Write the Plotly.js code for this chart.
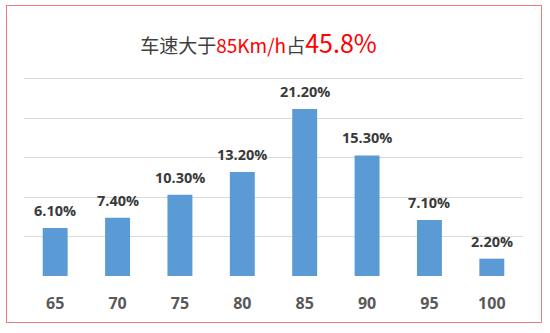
<!DOCTYPE html>
<html>
<head>
<meta charset="utf-8">
<script src="https://cdn.plot.ly/plotly-3.0.1.min.js"></script>
<style>
html,body{margin:0;padding:0;background:#fff;}
#wrap{position:relative;width:550px;height:333px;}
#chart{position:absolute;left:0;top:0;width:550px;height:333px;}
#frame{position:absolute;left:6px;top:5px;width:534px;height:316px;border:1.5px solid #EE7A7A;pointer-events:none;}
</style>
</head>
<body>
<div id="wrap"><div id="chart"></div><div id="frame"></div></div>
<script>
var categories = ['65','70','75','80','85','90','95','100'];
var values = [6.1, 7.4, 10.3, 13.2, 21.2, 15.3, 7.1, 2.2];
var labels = ['6.10%','7.40%','10.30%','13.20%','21.20%','15.30%','7.10%','2.20%'];

var trace = {
  type: 'bar',
  x: categories,
  y: values,
  marker: {color: '#5B9BD5'},
  hoverinfo: 'none'
};

var annotations = categories.map(function(c, i){
  return {
    x: i, y: values[i], xref: 'x', yref: 'y',
    text: '<b>' + labels[i] + '</b>',
    showarrow: false, yanchor: 'bottom', yshift: 6,
    font: {family: 'Open Sans, Noto Sans, sans-serif', size: 14.5, color: '#3A3A3A'}
  };
});

var layout = {
  width: 550, height: 333,
  margin: {l: 24, r: 27, t: 77, b: 57},
  paper_bgcolor: '#fff', plot_bgcolor: '#fff',
  bargap: 0.6,
  showlegend: false,
  title: {
    text: '车速大于<span style="color:#FF0000">85Km/h</span>占<span style="color:#FF0000;font-size:25px">45.8%</span>',
    font: {family: 'Noto Sans CJK SC, Noto Sans, sans-serif', size: 19, color: '#404040'},
    x: 0.47, xref: 'container', xanchor: 'center',
    y: 0.862, yref: 'container', yanchor: 'middle'
  },
  xaxis: {
    type: 'category',
    categoryorder: 'array', categoryarray: categories,
    showgrid: false, zeroline: false, showline: false,
    ticks: '',
    ticklabelstandoff: 16,
    tickfont: {family: 'Open Sans, Noto Sans, sans-serif', size: 16, color: '#595959', weight: 'bold'}
  },
  yaxis: {
    range: [0, 25.25], dtick: 5, tick0: 0,
    showgrid: true, gridcolor: '#D9D9D9', gridwidth: 1,
    zeroline: false, showline: false, showticklabels: false, ticks: ''
  },
  annotations: annotations
};

Plotly.newPlot('chart', [trace], layout, {displayModeBar: false, staticPlot: true});
</script>
</body>
</html>
